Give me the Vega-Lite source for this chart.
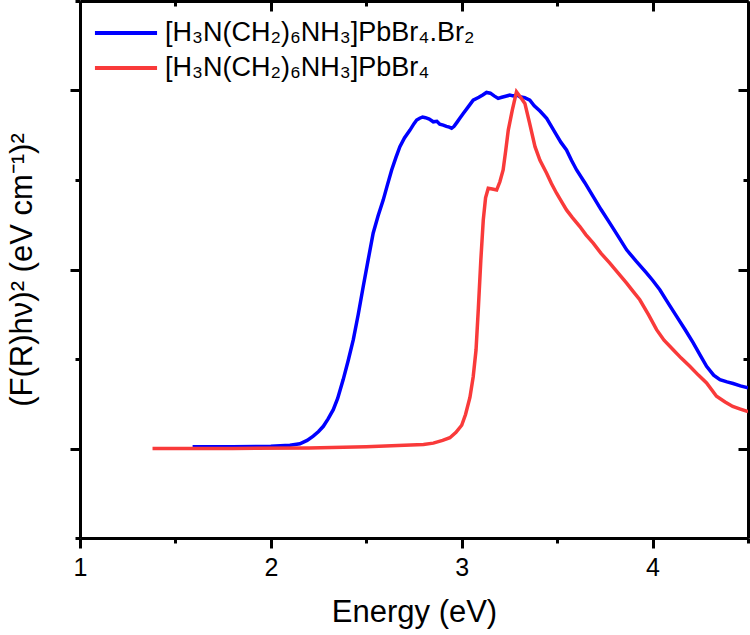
{
  "$schema": "https://vega.github.io/schema/vega-lite/v6.json",
  "width": 668,
  "height": 537,
  "autosize": {"type": "none"},
  "padding": {"left": 80, "top": 1, "right": 2, "bottom": 97},
  "background": "white",
  "config": {
    "font": "Liberation Sans",
    "view": {"stroke": null},
    "axis": {
      "grid": false,
      "domainColor": "black",
      "domainWidth": 3,
      "tickColor": "black",
      "tickWidth": 3,
      "labelColor": "black",
      "titleColor": "black",
      "titleFontWeight": "normal",
      "labelFont": "Liberation Sans",
      "titleFont": "Liberation Sans"
    },
    "legend": {
      "labelFont": "Liberation Sans"
    }
  },
  "datasets": {
    "spectra": [
      {"s": "[H₃N(CH₂)₆NH₃]PbBr₄.Br₂", "e": 1.59, "v": 0.01},
      {"s": "[H₃N(CH₂)₆NH₃]PbBr₄.Br₂", "e": 1.8, "v": 0.01},
      {"s": "[H₃N(CH₂)₆NH₃]PbBr₄.Br₂", "e": 2.0, "v": 0.012},
      {"s": "[H₃N(CH₂)₆NH₃]PbBr₄.Br₂", "e": 2.1, "v": 0.018},
      {"s": "[H₃N(CH₂)₆NH₃]PbBr₄.Br₂", "e": 2.152, "v": 0.026},
      {"s": "[H₃N(CH₂)₆NH₃]PbBr₄.Br₂", "e": 2.19, "v": 0.045},
      {"s": "[H₃N(CH₂)₆NH₃]PbBr₄.Br₂", "e": 2.222, "v": 0.069},
      {"s": "[H₃N(CH₂)₆NH₃]PbBr₄.Br₂", "e": 2.25, "v": 0.095},
      {"s": "[H₃N(CH₂)₆NH₃]PbBr₄.Br₂", "e": 2.275, "v": 0.124},
      {"s": "[H₃N(CH₂)₆NH₃]PbBr₄.Br₂", "e": 2.3, "v": 0.165},
      {"s": "[H₃N(CH₂)₆NH₃]PbBr₄.Br₂", "e": 2.327, "v": 0.217},
      {"s": "[H₃N(CH₂)₆NH₃]PbBr₄.Br₂", "e": 2.35, "v": 0.28},
      {"s": "[H₃N(CH₂)₆NH₃]PbBr₄.Br₂", "e": 2.379, "v": 0.385},
      {"s": "[H₃N(CH₂)₆NH₃]PbBr₄.Br₂", "e": 2.405, "v": 0.49},
      {"s": "[H₃N(CH₂)₆NH₃]PbBr₄.Br₂", "e": 2.432, "v": 0.608},
      {"s": "[H₃N(CH₂)₆NH₃]PbBr₄.Br₂", "e": 2.458, "v": 0.75},
      {"s": "[H₃N(CH₂)₆NH₃]PbBr₄.Br₂", "e": 2.484, "v": 0.905},
      {"s": "[H₃N(CH₂)₆NH₃]PbBr₄.Br₂", "e": 2.51, "v": 1.055},
      {"s": "[H₃N(CH₂)₆NH₃]PbBr₄.Br₂", "e": 2.536, "v": 1.203},
      {"s": "[H₃N(CH₂)₆NH₃]PbBr₄.Br₂", "e": 2.562, "v": 1.3},
      {"s": "[H₃N(CH₂)₆NH₃]PbBr₄.Br₂", "e": 2.589, "v": 1.389},
      {"s": "[H₃N(CH₂)₆NH₃]PbBr₄.Br₂", "e": 2.61, "v": 1.47},
      {"s": "[H₃N(CH₂)₆NH₃]PbBr₄.Br₂", "e": 2.633, "v": 1.556},
      {"s": "[H₃N(CH₂)₆NH₃]PbBr₄.Br₂", "e": 2.655, "v": 1.625},
      {"s": "[H₃N(CH₂)₆NH₃]PbBr₄.Br₂", "e": 2.676, "v": 1.686},
      {"s": "[H₃N(CH₂)₆NH₃]PbBr₄.Br₂", "e": 2.7, "v": 1.735},
      {"s": "[H₃N(CH₂)₆NH₃]PbBr₄.Br₂", "e": 2.729, "v": 1.779},
      {"s": "[H₃N(CH₂)₆NH₃]PbBr₄.Br₂", "e": 2.75, "v": 1.815},
      {"s": "[H₃N(CH₂)₆NH₃]PbBr₄.Br₂", "e": 2.764, "v": 1.835},
      {"s": "[H₃N(CH₂)₆NH₃]PbBr₄.Br₂", "e": 2.78, "v": 1.845},
      {"s": "[H₃N(CH₂)₆NH₃]PbBr₄.Br₂", "e": 2.795, "v": 1.852},
      {"s": "[H₃N(CH₂)₆NH₃]PbBr₄.Br₂", "e": 2.81, "v": 1.848},
      {"s": "[H₃N(CH₂)₆NH₃]PbBr₄.Br₂", "e": 2.83, "v": 1.84},
      {"s": "[H₃N(CH₂)₆NH₃]PbBr₄.Br₂", "e": 2.851, "v": 1.825},
      {"s": "[H₃N(CH₂)₆NH₃]PbBr₄.Br₂", "e": 2.87, "v": 1.828},
      {"s": "[H₃N(CH₂)₆NH₃]PbBr₄.Br₂", "e": 2.885, "v": 1.812},
      {"s": "[H₃N(CH₂)₆NH₃]PbBr₄.Br₂", "e": 2.903, "v": 1.807},
      {"s": "[H₃N(CH₂)₆NH₃]PbBr₄.Br₂", "e": 2.92, "v": 1.8},
      {"s": "[H₃N(CH₂)₆NH₃]PbBr₄.Br₂", "e": 2.935, "v": 1.795},
      {"s": "[H₃N(CH₂)₆NH₃]PbBr₄.Br₂", "e": 2.947, "v": 1.789},
      {"s": "[H₃N(CH₂)₆NH₃]PbBr₄.Br₂", "e": 2.96, "v": 1.8},
      {"s": "[H₃N(CH₂)₆NH₃]PbBr₄.Br₂", "e": 2.975, "v": 1.822},
      {"s": "[H₃N(CH₂)₆NH₃]PbBr₄.Br₂", "e": 2.99, "v": 1.845},
      {"s": "[H₃N(CH₂)₆NH₃]PbBr₄.Br₂", "e": 3.008, "v": 1.872},
      {"s": "[H₃N(CH₂)₆NH₃]PbBr₄.Br₂", "e": 3.035, "v": 1.91},
      {"s": "[H₃N(CH₂)₆NH₃]PbBr₄.Br₂", "e": 3.06, "v": 1.946},
      {"s": "[H₃N(CH₂)₆NH₃]PbBr₄.Br₂", "e": 3.09, "v": 1.962},
      {"s": "[H₃N(CH₂)₆NH₃]PbBr₄.Br₂", "e": 3.11, "v": 1.975},
      {"s": "[H₃N(CH₂)₆NH₃]PbBr₄.Br₂", "e": 3.13, "v": 1.989},
      {"s": "[H₃N(CH₂)₆NH₃]PbBr₄.Br₂", "e": 3.15, "v": 1.985},
      {"s": "[H₃N(CH₂)₆NH₃]PbBr₄.Br₂", "e": 3.17, "v": 1.97},
      {"s": "[H₃N(CH₂)₆NH₃]PbBr₄.Br₂", "e": 3.191, "v": 1.956},
      {"s": "[H₃N(CH₂)₆NH₃]PbBr₄.Br₂", "e": 3.21, "v": 1.962},
      {"s": "[H₃N(CH₂)₆NH₃]PbBr₄.Br₂", "e": 3.23, "v": 1.968},
      {"s": "[H₃N(CH₂)₆NH₃]PbBr₄.Br₂", "e": 3.252, "v": 1.974},
      {"s": "[H₃N(CH₂)₆NH₃]PbBr₄.Br₂", "e": 3.27, "v": 1.97},
      {"s": "[H₃N(CH₂)₆NH₃]PbBr₄.Br₂", "e": 3.29, "v": 1.975},
      {"s": "[H₃N(CH₂)₆NH₃]PbBr₄.Br₂", "e": 3.305, "v": 1.965},
      {"s": "[H₃N(CH₂)₆NH₃]PbBr₄.Br₂", "e": 3.33, "v": 1.96},
      {"s": "[H₃N(CH₂)₆NH₃]PbBr₄.Br₂", "e": 3.357, "v": 1.946},
      {"s": "[H₃N(CH₂)₆NH₃]PbBr₄.Br₂", "e": 3.38, "v": 1.915},
      {"s": "[H₃N(CH₂)₆NH₃]PbBr₄.Br₂", "e": 3.41, "v": 1.885},
      {"s": "[H₃N(CH₂)₆NH₃]PbBr₄.Br₂", "e": 3.445, "v": 1.844},
      {"s": "[H₃N(CH₂)₆NH₃]PbBr₄.Br₂", "e": 3.47, "v": 1.8},
      {"s": "[H₃N(CH₂)₆NH₃]PbBr₄.Br₂", "e": 3.497, "v": 1.751},
      {"s": "[H₃N(CH₂)₆NH₃]PbBr₄.Br₂", "e": 3.52, "v": 1.71},
      {"s": "[H₃N(CH₂)₆NH₃]PbBr₄.Br₂", "e": 3.549, "v": 1.668},
      {"s": "[H₃N(CH₂)₆NH₃]PbBr₄.Br₂", "e": 3.575, "v": 1.61},
      {"s": "[H₃N(CH₂)₆NH₃]PbBr₄.Br₂", "e": 3.602, "v": 1.556},
      {"s": "[H₃N(CH₂)₆NH₃]PbBr₄.Br₂", "e": 3.645, "v": 1.485},
      {"s": "[H₃N(CH₂)₆NH₃]PbBr₄.Br₂", "e": 3.689, "v": 1.407},
      {"s": "[H₃N(CH₂)₆NH₃]PbBr₄.Br₂", "e": 3.73, "v": 1.335},
      {"s": "[H₃N(CH₂)₆NH₃]PbBr₄.Br₂", "e": 3.776, "v": 1.259},
      {"s": "[H₃N(CH₂)₆NH₃]PbBr₄.Br₂", "e": 3.82, "v": 1.185},
      {"s": "[H₃N(CH₂)₆NH₃]PbBr₄.Br₂", "e": 3.864, "v": 1.11},
      {"s": "[H₃N(CH₂)₆NH₃]PbBr₄.Br₂", "e": 3.915, "v": 1.045},
      {"s": "[H₃N(CH₂)₆NH₃]PbBr₄.Br₂", "e": 3.969, "v": 0.98},
      {"s": "[H₃N(CH₂)₆NH₃]PbBr₄.Br₂", "e": 4.0, "v": 0.94},
      {"s": "[H₃N(CH₂)₆NH₃]PbBr₄.Br₂", "e": 4.038, "v": 0.887},
      {"s": "[H₃N(CH₂)₆NH₃]PbBr₄.Br₂", "e": 4.08, "v": 0.815},
      {"s": "[H₃N(CH₂)₆NH₃]PbBr₄.Br₂", "e": 4.126, "v": 0.738},
      {"s": "[H₃N(CH₂)₆NH₃]PbBr₄.Br₂", "e": 4.17, "v": 0.665},
      {"s": "[H₃N(CH₂)₆NH₃]PbBr₄.Br₂", "e": 4.213, "v": 0.59},
      {"s": "[H₃N(CH₂)₆NH₃]PbBr₄.Br₂", "e": 4.25, "v": 0.52},
      {"s": "[H₃N(CH₂)₆NH₃]PbBr₄.Br₂", "e": 4.283, "v": 0.459},
      {"s": "[H₃N(CH₂)₆NH₃]PbBr₄.Br₂", "e": 4.32, "v": 0.41},
      {"s": "[H₃N(CH₂)₆NH₃]PbBr₄.Br₂", "e": 4.353, "v": 0.385},
      {"s": "[H₃N(CH₂)₆NH₃]PbBr₄.Br₂", "e": 4.39, "v": 0.372},
      {"s": "[H₃N(CH₂)₆NH₃]PbBr₄.Br₂", "e": 4.422, "v": 0.363},
      {"s": "[H₃N(CH₂)₆NH₃]PbBr₄.Br₂", "e": 4.46, "v": 0.35},
      {"s": "[H₃N(CH₂)₆NH₃]PbBr₄.Br₂", "e": 4.5, "v": 0.339},
      {"s": "[H₃N(CH₂)₆NH₃]PbBr₄", "e": 1.38, "v": 0.0},
      {"s": "[H₃N(CH₂)₆NH₃]PbBr₄", "e": 1.8, "v": 0.0},
      {"s": "[H₃N(CH₂)₆NH₃]PbBr₄", "e": 2.2, "v": 0.003},
      {"s": "[H₃N(CH₂)₆NH₃]PbBr₄", "e": 2.5, "v": 0.01},
      {"s": "[H₃N(CH₂)₆NH₃]PbBr₄", "e": 2.7, "v": 0.018},
      {"s": "[H₃N(CH₂)₆NH₃]PbBr₄", "e": 2.8, "v": 0.022},
      {"s": "[H₃N(CH₂)₆NH₃]PbBr₄", "e": 2.851, "v": 0.03},
      {"s": "[H₃N(CH₂)₆NH₃]PbBr₄", "e": 2.9, "v": 0.045},
      {"s": "[H₃N(CH₂)₆NH₃]PbBr₄", "e": 2.938, "v": 0.06},
      {"s": "[H₃N(CH₂)₆NH₃]PbBr₄", "e": 2.97, "v": 0.09},
      {"s": "[H₃N(CH₂)₆NH₃]PbBr₄", "e": 3.0, "v": 0.13},
      {"s": "[H₃N(CH₂)₆NH₃]PbBr₄", "e": 3.02, "v": 0.19},
      {"s": "[H₃N(CH₂)₆NH₃]PbBr₄", "e": 3.043, "v": 0.285},
      {"s": "[H₃N(CH₂)₆NH₃]PbBr₄", "e": 3.06, "v": 0.4},
      {"s": "[H₃N(CH₂)₆NH₃]PbBr₄", "e": 3.075, "v": 0.55},
      {"s": "[H₃N(CH₂)₆NH₃]PbBr₄", "e": 3.087, "v": 0.78},
      {"s": "[H₃N(CH₂)₆NH₃]PbBr₄", "e": 3.1, "v": 1.05},
      {"s": "[H₃N(CH₂)₆NH₃]PbBr₄", "e": 3.113, "v": 1.277},
      {"s": "[H₃N(CH₂)₆NH₃]PbBr₄", "e": 3.125, "v": 1.4},
      {"s": "[H₃N(CH₂)₆NH₃]PbBr₄", "e": 3.139, "v": 1.454},
      {"s": "[H₃N(CH₂)₆NH₃]PbBr₄", "e": 3.16, "v": 1.45},
      {"s": "[H₃N(CH₂)₆NH₃]PbBr₄", "e": 3.183, "v": 1.444},
      {"s": "[H₃N(CH₂)₆NH₃]PbBr₄", "e": 3.2, "v": 1.49},
      {"s": "[H₃N(CH₂)₆NH₃]PbBr₄", "e": 3.217, "v": 1.556},
      {"s": "[H₃N(CH₂)₆NH₃]PbBr₄", "e": 3.23, "v": 1.66},
      {"s": "[H₃N(CH₂)₆NH₃]PbBr₄", "e": 3.244, "v": 1.779},
      {"s": "[H₃N(CH₂)₆NH₃]PbBr₄", "e": 3.265, "v": 1.89},
      {"s": "[H₃N(CH₂)₆NH₃]PbBr₄", "e": 3.287, "v": 1.993},
      {"s": "[H₃N(CH₂)₆NH₃]PbBr₄", "e": 3.31, "v": 1.96},
      {"s": "[H₃N(CH₂)₆NH₃]PbBr₄", "e": 3.331, "v": 1.928},
      {"s": "[H₃N(CH₂)₆NH₃]PbBr₄", "e": 3.355, "v": 1.82},
      {"s": "[H₃N(CH₂)₆NH₃]PbBr₄", "e": 3.384, "v": 1.686},
      {"s": "[H₃N(CH₂)₆NH₃]PbBr₄", "e": 3.41, "v": 1.61},
      {"s": "[H₃N(CH₂)₆NH₃]PbBr₄", "e": 3.445, "v": 1.538},
      {"s": "[H₃N(CH₂)₆NH₃]PbBr₄", "e": 3.47, "v": 1.48},
      {"s": "[H₃N(CH₂)₆NH₃]PbBr₄", "e": 3.497, "v": 1.426},
      {"s": "[H₃N(CH₂)₆NH₃]PbBr₄", "e": 3.52, "v": 1.385},
      {"s": "[H₃N(CH₂)₆NH₃]PbBr₄", "e": 3.549, "v": 1.333},
      {"s": "[H₃N(CH₂)₆NH₃]PbBr₄", "e": 3.58, "v": 1.29},
      {"s": "[H₃N(CH₂)₆NH₃]PbBr₄", "e": 3.619, "v": 1.24},
      {"s": "[H₃N(CH₂)₆NH₃]PbBr₄", "e": 3.65, "v": 1.195},
      {"s": "[H₃N(CH₂)₆NH₃]PbBr₄", "e": 3.689, "v": 1.147},
      {"s": "[H₃N(CH₂)₆NH₃]PbBr₄", "e": 3.73, "v": 1.09},
      {"s": "[H₃N(CH₂)₆NH₃]PbBr₄", "e": 3.776, "v": 1.036},
      {"s": "[H₃N(CH₂)₆NH₃]PbBr₄", "e": 3.82, "v": 0.98},
      {"s": "[H₃N(CH₂)₆NH₃]PbBr₄", "e": 3.864, "v": 0.924},
      {"s": "[H₃N(CH₂)₆NH₃]PbBr₄", "e": 3.9, "v": 0.875},
      {"s": "[H₃N(CH₂)₆NH₃]PbBr₄", "e": 3.933, "v": 0.831},
      {"s": "[H₃N(CH₂)₆NH₃]PbBr₄", "e": 3.98, "v": 0.745},
      {"s": "[H₃N(CH₂)₆NH₃]PbBr₄", "e": 4.021, "v": 0.664},
      {"s": "[H₃N(CH₂)₆NH₃]PbBr₄", "e": 4.06, "v": 0.605},
      {"s": "[H₃N(CH₂)₆NH₃]PbBr₄", "e": 4.108, "v": 0.552},
      {"s": "[H₃N(CH₂)₆NH₃]PbBr₄", "e": 4.15, "v": 0.505},
      {"s": "[H₃N(CH₂)₆NH₃]PbBr₄", "e": 4.195, "v": 0.459},
      {"s": "[H₃N(CH₂)₆NH₃]PbBr₄", "e": 4.24, "v": 0.41},
      {"s": "[H₃N(CH₂)₆NH₃]PbBr₄", "e": 4.283, "v": 0.366},
      {"s": "[H₃N(CH₂)₆NH₃]PbBr₄", "e": 4.335, "v": 0.292},
      {"s": "[H₃N(CH₂)₆NH₃]PbBr₄", "e": 4.38, "v": 0.26},
      {"s": "[H₃N(CH₂)₆NH₃]PbBr₄", "e": 4.42, "v": 0.235},
      {"s": "[H₃N(CH₂)₆NH₃]PbBr₄", "e": 4.46, "v": 0.22},
      {"s": "[H₃N(CH₂)₆NH₃]PbBr₄", "e": 4.5, "v": 0.206}
    ],
    "frame": [{"e": 1, "v": 0}]
  },
  "resolve": {"axis": {"x": "independent", "y": "independent"}},
  "layer": [
    {
      "data": {"name": "spectra"},
      "mark": {"type": "line", "strokeWidth": 3.5, "clip": true},
      "encoding": {
        "x": {
          "field": "e", "type": "quantitative",
          "scale": {"domain": [1, 4.5], "nice": false, "zero": false},
          "axis": {
            "orient": "bottom", "values": [1, 2, 3, 4], "format": "d",
            "tickSize": 10, "labelFontSize": 25, "labelPadding": 7,
            "labelFlush": false, "labelOverlap": false,
            "title": "Energy (eV)", "titleFontSize": 31, "titlePadding": 17
          }
        },
        "y": {
          "field": "v", "type": "quantitative",
          "scale": {"domain": [-0.5, 2.5], "nice": false, "zero": false},
          "axis": {
            "orient": "left", "values": [0, 1, 2], "labels": false,
            "tickSize": 10,
            "title": "(F(R)hν)² (eV cm⁻¹)²", "titleFontSize": 31, "titlePadding": 30
          }
        },
        "color": {
          "field": "s", "type": "nominal",
          "scale": {
            "domain": ["[H₃N(CH₂)₆NH₃]PbBr₄.Br₂", "[H₃N(CH₂)₆NH₃]PbBr₄"],
            "range": ["#0000FF", "#F93A3A"]
          },
          "legend": {
            "title": null,
            "orient": "none",
            "legendX": 29,
            "legendY": 15,
            "padding": 0,
            "symbolType": "M-2.07,0H2.07",
            "symbolSize": 900,
            "symbolStrokeWidth": 4,
            "labelFontSize": 27,
            "labelColor": "black",
            "labelOffset": 22,
            "rowPadding": 5,
            "labelLimit": 500
          }
        },
        "order": {"field": "e", "type": "quantitative"}
      }
    },
    {
      "data": {"name": "frame"},
      "mark": {"type": "point", "opacity": 0},
      "encoding": {
        "x": {
          "field": "e", "type": "quantitative",
          "axis": {"orient": "bottom", "values": [1.5, 2.5, 3.5, 4.5], "labels": false, "domain": false, "tickSize": 5, "title": null}
        },
        "y": {
          "field": "v", "type": "quantitative",
          "axis": {"orient": "left", "values": [-0.5, 0.5, 1.5, 2.5], "labels": false, "domain": false, "tickSize": 5, "title": null}
        }
      }
    },
    {
      "data": {"name": "frame"},
      "mark": {"type": "point", "opacity": 0},
      "encoding": {
        "x": {
          "field": "e", "type": "quantitative",
          "axis": {"orient": "top", "values": [1, 2, 3, 4], "labels": false, "tickSize": -10, "title": null}
        },
        "y": {
          "field": "v", "type": "quantitative",
          "axis": {"orient": "right", "values": [0, 1, 2], "labels": false, "tickSize": -10, "title": null}
        }
      }
    },
    {
      "data": {"name": "frame"},
      "mark": {"type": "point", "opacity": 0},
      "encoding": {
        "x": {
          "field": "e", "type": "quantitative",
          "axis": {"orient": "top", "values": [1.5, 2.5, 3.5, 4.5], "labels": false, "domain": false, "tickSize": -5, "title": null}
        },
        "y": {
          "field": "v", "type": "quantitative",
          "axis": {"orient": "right", "values": [-0.5, 0.5, 1.5, 2.5], "labels": false, "domain": false, "tickSize": -5, "title": null}
        }
      }
    }
  ]
}
